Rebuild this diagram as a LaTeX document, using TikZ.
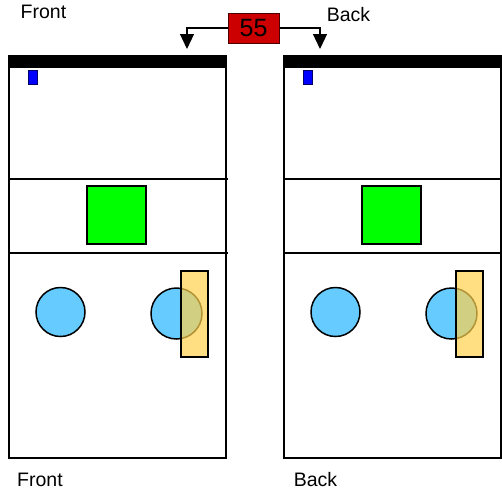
\documentclass[tikz,border=0pt]{standalone}
\usepackage{fontspec}
\setmainfont{Liberation Sans}
\usetikzlibrary{arrows.meta,patterns}
\definecolor{skyblue}{HTML}{66CCFF}
\definecolor{boxred}{HTML}{CC0000}
\definecolor{lidblue}{HTML}{0000FF}
\definecolor{softyellow}{HTML}{FFD24D}
\tikzset{
  panel/.style={line width=1.6pt},
  divider/.style={line width=1.6pt},
  lid/.style={fill=black},
  sensor/.style={fill=lidblue,draw=blue!40!black,line width=0.8pt},
  block/.style={fill=green,draw=black,line width=1.5pt},
  ball/.style={fill=skyblue,draw=black,line width=1.5pt},
  shade/.style={fill=softyellow,fill opacity=0.7,draw=black,line width=1.5pt},
  label/.style={font=\fontsize{19.5}{22}\selectfont,inner sep=0pt},
  counter/.style={fill=boxred,draw=red!30!black,line width=1pt,minimum width=51pt,minimum height=30pt,inner sep=0pt,font=\fontsize{25}{27}\selectfont}
}
\begin{document}
\begin{tikzpicture}[x=1pt,y=-1pt,>={Triangle[width=14pt,length=15pt]}]
  \useasboundingbox (0,0) rectangle (502,493);
  % two views, front and back
  \foreach \ox in {0,275}{
    \draw[panel] (9+\ox,62) rectangle (226+\ox,458);
    \fill[lid] (8+\ox,55) rectangle (227+\ox,68);
    \draw[sensor] (28+\ox,70) rectangle (37+\ox,84);
    \draw[divider] (8+\ox,179) -- (228+\ox,179);
    \draw[divider] (8+\ox,253) -- (228+\ox,253);
    \draw[block] (87+\ox,186) rectangle (146+\ox,244);
    \draw[ball] (60.5+\ox,312) circle (24.5);
    \draw[ball] (176.5+\ox,313.5) circle (25.5);
    \draw[shade] (181+\ox,271) rectangle (208+\ox,357);
  }
  \node[counter] (cnt) at (253.5,28) {55};
  \coordinate (fronttip) at (187,49);
  \coordinate (backtip) at (320,49);
  \draw[->,line width=1.1pt] (cnt.west) -| (fronttip);
  \draw[->,line width=1.1pt] (cnt.east) -| (backtip);
  \node[label] (fronttop) at (43.5,11.5) {Front};
  \node[label] (backtop) at (348.5,14.5) {Back};
  \node[label] (frontbot) at (40,480) {Front};
  \node[label] (backbot) at (315.5,479.5) {Back};
\end{tikzpicture}
\end{document}
